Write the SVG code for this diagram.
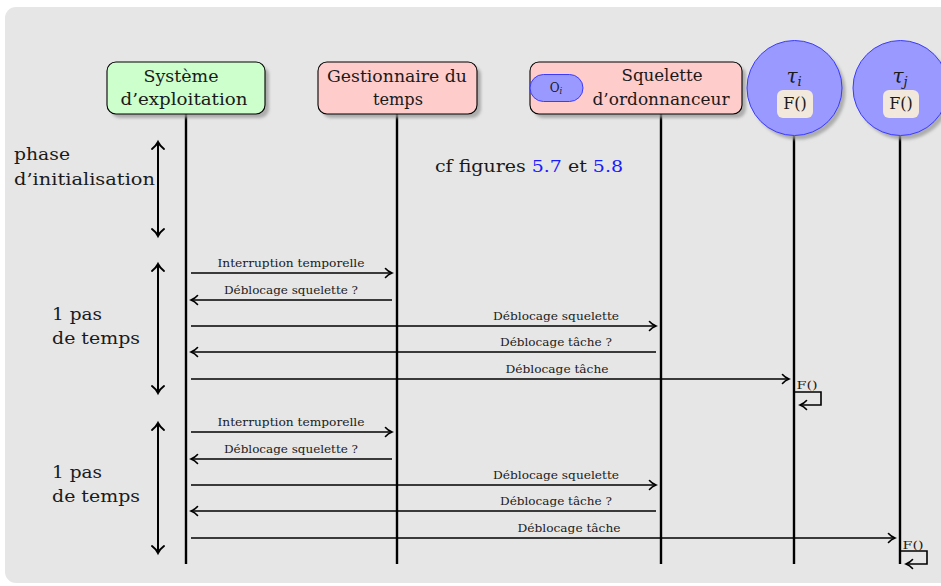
<svg xmlns="http://www.w3.org/2000/svg" width="941" height="586" viewBox="0 0 941 586">
<defs>
<style>
text{font-family:"DejaVu Serif","Liberation Serif",serif;fill:#1a1a1a}
.hd{font-size:17px;text-anchor:middle}
.side{font-size:17px}
.sm{font-size:11.5px;text-anchor:middle}
.life{stroke:#000;stroke-width:2.4;fill:none}
.msg{stroke:#000;stroke-width:1.6;fill:none}
.dbl{stroke:#000;stroke-width:2;fill:none}
.shadow{fill:#9a9a9a;opacity:0.75;filter:url(#blur)}
.box{stroke:#000;stroke-width:1.1}
.task{fill:#9999ff;stroke:#3b3bff;stroke-width:1}
.fbox{fill:#f2e8dc}
.blue{fill:#1a1aff}
</style>
<filter id="blur" x="-20%" y="-20%" width="140%" height="140%"><feGaussianBlur stdDeviation="1.5"/></filter>
<marker id="ar" markerWidth="12" markerHeight="12" refX="10" refY="6" orient="auto-start-reverse" markerUnits="userSpaceOnUse">
<path d="M3.5,1.5 Q6,4.5 10,6 Q6,7.5 3.5,10.5" fill="none" stroke="#000" stroke-width="1.6" stroke-linecap="round"/>
</marker>
<marker id="ar2" markerWidth="16" markerHeight="16" refX="12" refY="8" orient="auto-start-reverse" markerUnits="userSpaceOnUse">
<path d="M5,2 Q8,6 12,8 Q8,10 5,14" fill="none" stroke="#000" stroke-width="2" stroke-linecap="round"/>
</marker>
</defs>
<rect x="5" y="7" width="950" height="576" rx="11" fill="#e6e6e6"/>

<g id="connectors">
<line class="life" x1="186" y1="114" x2="186" y2="564"/>
<line class="life" x1="397" y1="114" x2="397" y2="564"/>
<line class="life" x1="661" y1="114" x2="661" y2="564"/>
<line class="life" x1="794" y1="136" x2="794" y2="564"/>
<line class="life" x1="900" y1="136" x2="900" y2="564"/>

<line class="dbl" x1="158" y1="142" x2="158" y2="236" marker-start="url(#ar2)" marker-end="url(#ar2)"/>
<line class="dbl" x1="158" y1="264" x2="158" y2="393" marker-start="url(#ar2)" marker-end="url(#ar2)"/>
<line class="dbl" x1="158" y1="423" x2="158" y2="553" marker-start="url(#ar2)" marker-end="url(#ar2)"/>

<line class="msg" x1="191" y1="273" x2="392" y2="273" marker-end="url(#ar)"/>
<line class="msg" x1="392" y1="300" x2="191" y2="300" marker-end="url(#ar)"/>
<line class="msg" x1="191" y1="326" x2="656" y2="326" marker-end="url(#ar)"/>
<line class="msg" x1="656" y1="352" x2="191" y2="352" marker-end="url(#ar)"/>
<line class="msg" x1="191" y1="379" x2="789" y2="379" marker-end="url(#ar)"/>
<polyline class="msg" points="795,392 821,392 821,405 800,405" marker-end="url(#ar)"/>

<line class="msg" x1="191" y1="432" x2="392" y2="432" marker-end="url(#ar)"/>
<line class="msg" x1="392" y1="459" x2="191" y2="459" marker-end="url(#ar)"/>
<line class="msg" x1="191" y1="485" x2="656" y2="485" marker-end="url(#ar)"/>
<line class="msg" x1="656" y1="511" x2="191" y2="511" marker-end="url(#ar)"/>
<line class="msg" x1="191" y1="538" x2="895" y2="538" marker-end="url(#ar)"/>
<polyline class="msg" points="901,551 927,551 927,564 906,564" marker-end="url(#ar)"/>

<text class="sm" x="291" y="267" textLength="147" lengthAdjust="spacingAndGlyphs">Interruption temporelle</text>
<text class="sm" x="291" y="294" textLength="134" lengthAdjust="spacingAndGlyphs">Déblocage squelette ?</text>
<text class="sm" x="556" y="320" textLength="126" lengthAdjust="spacingAndGlyphs">Déblocage squelette</text>
<text class="sm" x="556" y="346" textLength="112" lengthAdjust="spacingAndGlyphs">Déblocage tâche ?</text>
<text class="sm" x="557" y="373" textLength="103" lengthAdjust="spacingAndGlyphs">Déblocage tâche</text>
<text class="sm" x="807" y="389" textLength="21" lengthAdjust="spacingAndGlyphs">F()</text>

<text class="sm" x="291" y="426" textLength="147" lengthAdjust="spacingAndGlyphs">Interruption temporelle</text>
<text class="sm" x="291" y="453" textLength="134" lengthAdjust="spacingAndGlyphs">Déblocage squelette ?</text>
<text class="sm" x="556" y="479" textLength="126" lengthAdjust="spacingAndGlyphs">Déblocage squelette</text>
<text class="sm" x="556" y="505" textLength="112" lengthAdjust="spacingAndGlyphs">Déblocage tâche ?</text>
<text class="sm" x="569" y="532" textLength="103" lengthAdjust="spacingAndGlyphs">Déblocage tâche</text>
<text class="sm" x="913" y="549" textLength="21" lengthAdjust="spacingAndGlyphs">F()</text>
</g>

<g id="os">
<rect class="shadow" x="111" y="66" width="158" height="52" rx="9"/>
<rect class="box" x="107" y="62" width="158" height="52" rx="9" fill="#ccffcc"/>
<text class="hd" x="181" y="82" textLength="75" lengthAdjust="spacingAndGlyphs">Système</text>
<text class="hd" x="184" y="105" textLength="127" lengthAdjust="spacingAndGlyphs">d’exploitation</text>
</g>

<g id="gestionnaire">
<rect class="shadow" x="322" y="66" width="159" height="52" rx="9"/>
<rect class="box" x="318" y="62" width="159" height="52" rx="9" fill="#ffcccc"/>
<text class="hd" x="397" y="82" textLength="140" lengthAdjust="spacingAndGlyphs">Gestionnaire du</text>
<text class="hd" x="398" y="105" textLength="50" lengthAdjust="spacingAndGlyphs">temps</text>
</g>

<g id="squelette">
<rect class="shadow" x="534" y="66" width="212" height="52" rx="9"/>
<rect class="box" x="530" y="62" width="212" height="52" rx="9" fill="#ffcccc"/>
<rect x="530" y="74.5" width="53" height="27" rx="13.5" class="task"/>
<text x="556" y="92" style="font-size:12px;text-anchor:middle">O<tspan font-size="8.5" font-style="italic" dy="2">i</tspan></text>
<text class="hd" x="662" y="81" textLength="81" lengthAdjust="spacingAndGlyphs">Squelette</text>
<text class="hd" x="661" y="105" textLength="137" lengthAdjust="spacingAndGlyphs">d’ordonnanceur</text>
</g>

<g id="tau_i">
<circle class="shadow" cx="798" cy="92" r="47.5"/>
<circle class="task" cx="794.5" cy="88" r="47.5"/>
<text x="794" y="83" style="font-size:20px;text-anchor:middle"><tspan font-style="italic">τ</tspan><tspan font-size="13" font-style="italic" dy="3">i</tspan></text>
<rect class="fbox" x="777" y="90" width="36" height="28" rx="6"/>
<text x="795" y="109" style="font-size:16px;text-anchor:middle">F()</text>
</g>

<g id="tau_j">
<circle class="shadow" cx="904" cy="92" r="47.5"/>
<circle class="task" cx="900.5" cy="88" r="47.5"/>
<text x="900" y="83" style="font-size:20px;text-anchor:middle"><tspan font-style="italic">τ</tspan><tspan font-size="13" font-style="italic" dy="3">j</tspan></text>
<rect class="fbox" x="883" y="90" width="36" height="28" rx="6"/>
<text x="901" y="109" style="font-size:16px;text-anchor:middle">F()</text>
</g>

<g id="labels">
<text class="side" x="14" y="160" textLength="56" lengthAdjust="spacingAndGlyphs">phase</text>
<text class="side" x="14" y="185" textLength="141" lengthAdjust="spacingAndGlyphs">d’initialisation</text>
<text class="side" x="52" y="320" textLength="50" lengthAdjust="spacingAndGlyphs">1 pas</text>
<text class="side" x="52" y="344" textLength="88" lengthAdjust="spacingAndGlyphs">de temps</text>
<text class="side" x="52" y="478" textLength="50" lengthAdjust="spacingAndGlyphs">1 pas</text>
<text class="side" x="52" y="502" textLength="88" lengthAdjust="spacingAndGlyphs">de temps</text>
<text class="side" x="435" y="172" textLength="188" lengthAdjust="spacingAndGlyphs">cf figures <tspan class="blue">5.7</tspan> et <tspan class="blue">5.8</tspan></text>
</g>
</svg>
